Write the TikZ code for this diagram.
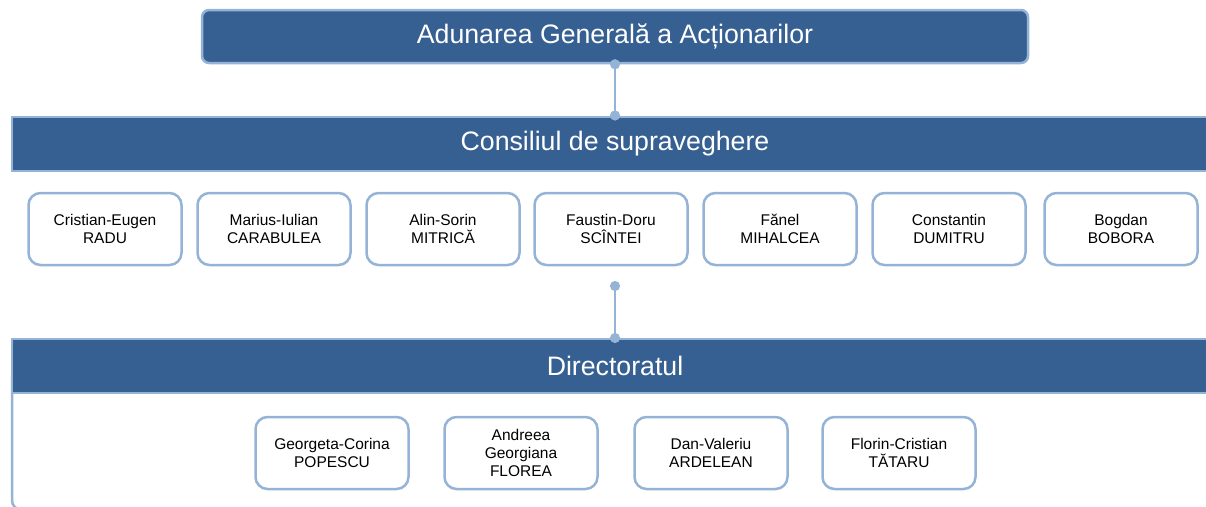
\documentclass[tikz,border=0pt]{standalone}
\usepackage{fontspec}
\setmainfont{Liberation Sans}
\usetikzlibrary{arrows.meta}

\definecolor{barblue}{RGB}{55,96,146}
\definecolor{lineblue}{RGB}{149,179,215}

\tikzset{top_style/.style={rectangle, rounded corners=7pt, fill=barblue, draw=lineblue, line width=2.5pt, minimum width=826pt, minimum height=53pt, text=white, font=\fontsize{26.7}{30}\selectfont}}
\tikzset{bar_style/.style={rectangle, fill=barblue, draw=lineblue, line width=2pt, minimum width=1206pt, minimum height=54pt, text=white, font=\fontsize{26.7}{30}\selectfont}}
\tikzset{frame_style/.style={rectangle, rounded corners=9pt, draw=lineblue, line width=2.5pt, minimum width=1208pt, minimum height=141pt}}
\tikzset{m_style/.style={rectangle, rounded corners=12pt, draw=lineblue, line width=2.5pt, fill=white, minimum width=153pt, minimum height=72pt, align=center, font=\fontsize{15.5}{18}\selectfont}}
\tikzset{link_style/.style={draw=lineblue, line width=2.5pt, {Circle[length=10pt]}-{Circle[length=10pt]}, shorten <=-5pt, shorten >=-5pt}}

\begin{document}
\begin{tikzpicture}[x=1pt, y=-1pt]
    \useasboundingbox (0,0) rectangle (1206,506);
    \clip (0,0) rectangle (1206,506);

    \node[top_style] (aga) at (615,36.5){Adunarea Generală a Acționarilor};
    \node[bar_style] (cs) at (615,143.5){Consiliul de supraveghere};

    \node[m_style] (radu) at (105,229){Cristian-Eugen\\RADU};
    \node[m_style] (carabulea) at (274,229){Marius-Iulian\\CARABULEA};
    \node[m_style] (mitrica) at (443,229){Alin-Sorin\\MITRICĂ};
    \node[m_style] (scintei) at (611,229){Faustin-Doru\\SCÎNTEI};
    \node[m_style] (mihalcea) at (780,229){Fănel\\MIHALCEA};
    \node[m_style] (dumitru) at (949,229){Constantin\\DUMITRU};
    \node[m_style] (bobora) at (1121,229){Bogdan\\BOBORA};

    \node[frame_style] (dir_frame) at (616,439){};
    \node[bar_style] (dir) at (615,366){Directoratul};
    \coordinate (cs_link) at (615,286);

    \node[m_style] (popescu) at (332,453){Georgeta-Corina\\POPESCU};
    \node[m_style] (florea) at (521,453){Andreea\\Georgiana\\FLOREA};
    \node[m_style] (ardelean) at (711,453){Dan-Valeriu\\ARDELEAN};
    \node[m_style] (tataru) at (899,453){Florin-Cristian\\TĂTARU};

    \draw[link_style] (aga.south) -- (cs.north);
    \draw[link_style] (cs_link) -- (dir.north);

\end{tikzpicture}
\end{document}
